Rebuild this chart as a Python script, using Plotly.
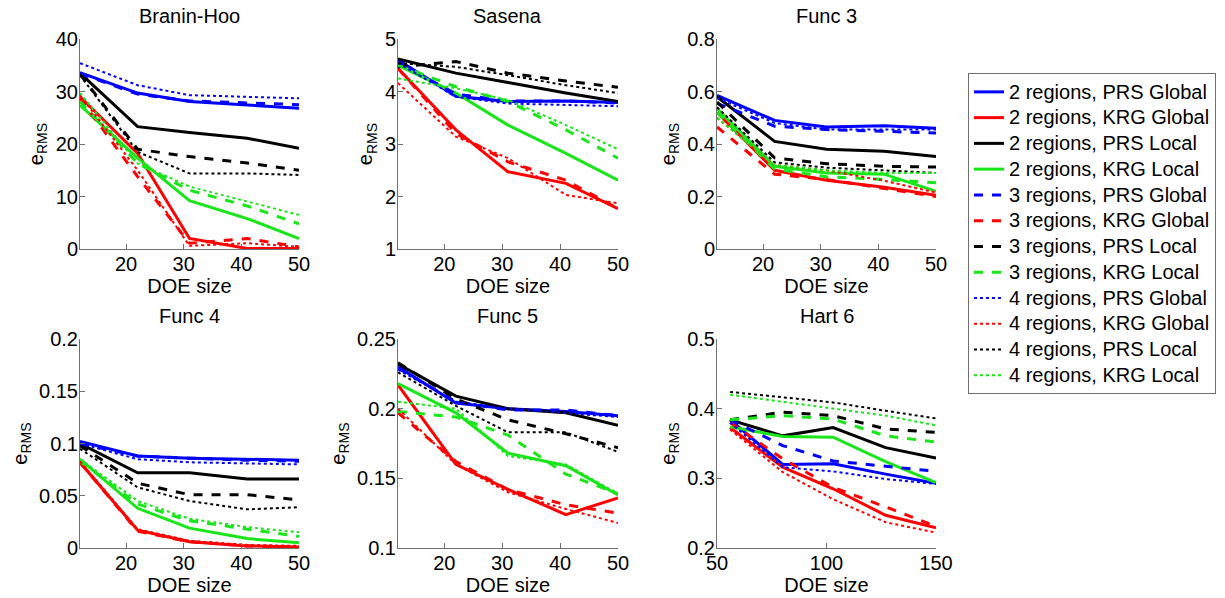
import plotly.graph_objects as go

# ---------------- data ----------------
doe_small = [12, 22, 31, 41, 50]
doe_hart = [56, 80, 103, 127, 150]

titles = ["Branin-Hoo", "Sasena", "Func 3", "Func 4", "Func 5", "Hart 6"]

series_names = [
    "2 regions, PRS Global", "2 regions, KRG Global", "2 regions, PRS Local", "2 regions, KRG Local",
    "3 regions, PRS Global", "3 regions, KRG Global", "3 regions, PRS Local", "3 regions, KRG Local",
    "4 regions, PRS Global", "4 regions, KRG Global", "4 regions, PRS Local", "4 regions, KRG Local",
]

# Branin-Hoo
branin_2_prs_g = [33.6, 29.7, 28.1, 27.4, 26.8]
branin_2_krg_g = [29.0, 18.2, 2.0, 0.1, 0.1]
branin_2_prs_l = [33.5, 23.3, 22.2, 21.1, 19.2]
branin_2_krg_l = [27.4, 17.3, 9.2, 5.8, 2.0]
branin_3_prs_g = [33.4, 29.5, 28.2, 27.8, 27.5]
branin_3_krg_g = [28.7, 13.8, 1.1, 2.0, 0.4]
branin_3_prs_l = [33.3, 19.0, 17.6, 16.4, 15.0]
branin_3_krg_l = [28.1, 16.3, 11.2, 8.2, 4.8]
branin_4_prs_g = [35.4, 31.2, 29.3, 29.0, 28.7]
branin_4_krg_g = [29.3, 15.0, 0.6, 1.1, 0.4]
branin_4_prs_l = [33.1, 18.5, 14.4, 14.4, 14.1]
branin_4_krg_l = [29.7, 16.3, 11.9, 9.0, 6.5]

# Sasena
sasena_2_prs_g = [4.60, 3.91, 3.81, 3.82, 3.79]
sasena_2_krg_g = [4.44, 3.27, 2.47, 2.25, 1.77]
sasena_2_prs_l = [4.62, 4.35, 4.17, 3.97, 3.81]
sasena_2_krg_l = [4.50, 3.97, 3.36, 2.82, 2.31]
sasena_3_prs_g = [4.55, 3.95, 3.82, 3.82, 3.78]
sasena_3_krg_g = [4.44, 3.20, 2.66, 2.31, 1.77]
sasena_3_prs_l = [4.47, 4.57, 4.35, 4.20, 4.08]
sasena_3_krg_l = [4.50, 4.09, 3.81, 3.27, 2.73]
sasena_4_prs_g = [4.54, 3.90, 3.77, 3.74, 3.72]
sasena_4_krg_g = [4.16, 3.14, 2.73, 2.03, 1.87]
sasena_4_prs_l = [4.54, 4.47, 4.31, 4.12, 3.97]
sasena_4_krg_l = [4.25, 4.06, 3.84, 3.36, 2.90]

# Func 3
func3_2_prs_g = [0.585, 0.490, 0.465, 0.470, 0.460]
func3_2_krg_g = [0.520, 0.300, 0.262, 0.235, 0.205]
func3_2_prs_l = [0.580, 0.410, 0.380, 0.372, 0.352]
func3_2_krg_l = [0.535, 0.315, 0.290, 0.285, 0.220]
func3_3_prs_g = [0.555, 0.468, 0.455, 0.447, 0.442]
func3_3_krg_g = [0.465, 0.285, 0.265, 0.230, 0.200]
func3_3_prs_l = [0.560, 0.347, 0.325, 0.315, 0.312]
func3_3_krg_l = [0.520, 0.305, 0.275, 0.265, 0.252]
func3_4_prs_g = [0.575, 0.480, 0.455, 0.455, 0.455]
func3_4_krg_g = [0.500, 0.320, 0.300, 0.260, 0.215]
func3_4_prs_l = [0.540, 0.330, 0.310, 0.300, 0.290]
func3_4_krg_l = [0.500, 0.320, 0.300, 0.290, 0.290]

# Func 4
func4_2_prs_g = [0.102, 0.088, 0.086, 0.085, 0.084]
func4_2_krg_g = [0.082, 0.017, 0.006, 0.002, 0.001]
func4_2_prs_l = [0.100, 0.072, 0.072, 0.066, 0.066]
func4_2_krg_l = [0.085, 0.038, 0.019, 0.009, 0.005]
func4_3_prs_g = [0.100, 0.088, 0.086, 0.084, 0.083]
func4_3_krg_g = [0.082, 0.016, 0.006, 0.002, 0.001]
func4_3_prs_l = [0.098, 0.062, 0.051, 0.051, 0.046]
func4_3_krg_l = [0.083, 0.042, 0.026, 0.018, 0.011]
func4_4_prs_g = [0.100, 0.085, 0.082, 0.081, 0.080]
func4_4_krg_g = [0.083, 0.018, 0.007, 0.003, 0.002]
func4_4_prs_l = [0.095, 0.058, 0.045, 0.037, 0.039]
func4_4_krg_l = [0.085, 0.045, 0.028, 0.020, 0.015]

# Func 5
func5_2_prs_g = [0.230, 0.204, 0.200, 0.198, 0.195]
func5_2_krg_g = [0.217, 0.160, 0.142, 0.124, 0.136]
func5_2_prs_l = [0.232, 0.209, 0.200, 0.197, 0.188]
func5_2_krg_l = [0.218, 0.197, 0.168, 0.159, 0.138]
func5_3_prs_g = [0.229, 0.205, 0.199, 0.199, 0.195]
func5_3_krg_g = [0.197, 0.162, 0.142, 0.131, 0.125]
func5_3_prs_l = [0.233, 0.207, 0.192, 0.182, 0.172]
func5_3_krg_l = [0.198, 0.194, 0.181, 0.153, 0.139]
func5_4_prs_g = [0.228, 0.205, 0.200, 0.197, 0.194]
func5_4_krg_g = [0.200, 0.160, 0.140, 0.128, 0.118]
func5_4_prs_l = [0.226, 0.202, 0.183, 0.183, 0.169]
func5_4_krg_l = [0.205, 0.200, 0.166, 0.160, 0.139]

# Hart 6
hart6_2_prs_g = [0.384, 0.320, 0.321, 0.306, 0.293]
hart6_2_krg_g = [0.373, 0.316, 0.285, 0.247, 0.229]
hart6_2_prs_l = [0.384, 0.361, 0.373, 0.344, 0.329]
hart6_2_krg_l = [0.374, 0.360, 0.359, 0.324, 0.294]
hart6_3_prs_g = [0.384, 0.347, 0.325, 0.317, 0.310]
hart6_3_krg_g = [0.380, 0.328, 0.287, 0.259, 0.231]
hart6_3_prs_l = [0.384, 0.395, 0.390, 0.371, 0.366]
hart6_3_krg_l = [0.384, 0.390, 0.385, 0.361, 0.352]
hart6_4_prs_g = [0.380, 0.316, 0.310, 0.299, 0.292]
hart6_4_krg_g = [0.370, 0.309, 0.270, 0.237, 0.222]
hart6_4_prs_l = [0.424, 0.416, 0.409, 0.397, 0.386]
hart6_4_krg_l = [0.420, 0.410, 0.401, 0.390, 0.376]

panels = [
    (doe_small, [branin_2_prs_g, branin_2_krg_g, branin_2_prs_l, branin_2_krg_l,
                 branin_3_prs_g, branin_3_krg_g, branin_3_prs_l, branin_3_krg_l,
                 branin_4_prs_g, branin_4_krg_g, branin_4_prs_l, branin_4_krg_l]),
    (doe_small, [sasena_2_prs_g, sasena_2_krg_g, sasena_2_prs_l, sasena_2_krg_l,
                 sasena_3_prs_g, sasena_3_krg_g, sasena_3_prs_l, sasena_3_krg_l,
                 sasena_4_prs_g, sasena_4_krg_g, sasena_4_prs_l, sasena_4_krg_l]),
    (doe_small, [func3_2_prs_g, func3_2_krg_g, func3_2_prs_l, func3_2_krg_l,
                 func3_3_prs_g, func3_3_krg_g, func3_3_prs_l, func3_3_krg_l,
                 func3_4_prs_g, func3_4_krg_g, func3_4_prs_l, func3_4_krg_l]),
    (doe_small, [func4_2_prs_g, func4_2_krg_g, func4_2_prs_l, func4_2_krg_l,
                 func4_3_prs_g, func4_3_krg_g, func4_3_prs_l, func4_3_krg_l,
                 func4_4_prs_g, func4_4_krg_g, func4_4_prs_l, func4_4_krg_l]),
    (doe_small, [func5_2_prs_g, func5_2_krg_g, func5_2_prs_l, func5_2_krg_l,
                 func5_3_prs_g, func5_3_krg_g, func5_3_prs_l, func5_3_krg_l,
                 func5_4_prs_g, func5_4_krg_g, func5_4_prs_l, func5_4_krg_l]),
    (doe_hart, [hart6_2_prs_g, hart6_2_krg_g, hart6_2_prs_l, hart6_2_krg_l,
                hart6_3_prs_g, hart6_3_krg_g, hart6_3_prs_l, hart6_3_krg_l,
                hart6_4_prs_g, hart6_4_krg_g, hart6_4_prs_l, hart6_4_krg_l]),
]

x_ranges = [[12, 50]] * 5 + [[50, 150]]
x_ticks = [[20, 30, 40, 50]] * 5 + [[50, 100, 150]]
y_ranges = [[0, 40], [1, 5], [0, 0.8], [0, 0.2], [0.1, 0.25], [0.2, 0.5]]
y_dticks = [10, 1, 0.2, 0.05, 0.05, 0.1]

# ---------------- style ----------------
W, H = 1225, 598
FONT = "Arial, 'Liberation Sans', sans-serif"
colors = ["#0000ff", "#ff0000", "#000000", "#19e619"]
dashes = ["solid", "dash", "dot"]
widths = [3, 3, 2]
AX = "#707070"

col_px = [(80, 299), (398, 618), (717, 936)]
row_px = [(39, 249), (339, 548)]

fig = go.Figure()
for p, (xs, ys) in enumerate(panels):
    ax_id = "" if p == 0 else str(p + 1)
    for k, (name, yv) in enumerate(zip(series_names, ys)):
        fig.add_trace(go.Scatter(
            x=xs, y=yv, mode="lines",
            name='<span style="font-size:20px">' + name + '</span>',
            line=dict(color=colors[k % 4], dash=dashes[k // 4], width=widths[k // 4]),
            xaxis="x" + ax_id, yaxis="y" + ax_id,
            showlegend=(p == 0), legendgroup=name,
        ))

annotations = []
for p in range(6):
    r, c = divmod(p, 3)
    x0, x1 = col_px[c]
    y0, y1 = row_px[r]
    xd = [x0 / W, x1 / W]
    yd = [1 - y1 / H, 1 - y0 / H]
    ax_id = "" if p == 0 else str(p + 1)
    common = dict(showline=True, linecolor=AX, linewidth=1, ticks="inside", ticklen=5,
                  tickcolor=AX, showgrid=False, zeroline=False, mirror=False,
                  automargin=False,
                  tickfont=dict(size=20, color="#000000", family=FONT))
    fig.update_layout(**{
        "xaxis" + ax_id: dict(domain=xd, range=x_ranges[p], tickvals=x_ticks[p],
                              anchor="y" + ax_id, ticklabelstandoff=-3,
                              title=dict(text="DOE size", standoff=0,
                                         font=dict(size=20, color="#000000", family=FONT)),
                              **common),
        "yaxis" + ax_id: dict(domain=yd, range=y_ranges[p], dtick=y_dticks[p],
                              tick0=y_ranges[p][0], anchor="x" + ax_id,
                              ticklabelstandoff=-3,
                              title=dict(text="e<sub>RMS</sub>", standoff=6,
                                         font=dict(size=20, color="#000000", family=FONT)),
                              **common),
    })
    annotations.append(dict(text=titles[p], x=(x0 + x1) / 2 / W, y=1 - (y0 - 23) / H,
                            xref="paper", yref="paper", showarrow=False,
                            xanchor="center", yanchor="middle",
                            font=dict(size=20, color="#000000", family=FONT)))

fig.update_layout(
    width=W, height=H,
    margin=dict(l=0, r=0, t=0, b=0, autoexpand=False),
    paper_bgcolor="white", plot_bgcolor="white",
    font=dict(family=FONT, size=20, color="#000000"),
    annotations=annotations,
    legend=dict(x=968 / W, y=1 - 73 / H, xanchor="left", yanchor="top",
                bordercolor=AX, borderwidth=1, bgcolor="white",
                font=dict(size=17.5, color="#000000", family=FONT),
                itemwidth=30, tracegroupgap=0),
)

fig.write_html("out.html", config={"displayModeBar": False},
               post_script="document.body.style.margin='0px';")
